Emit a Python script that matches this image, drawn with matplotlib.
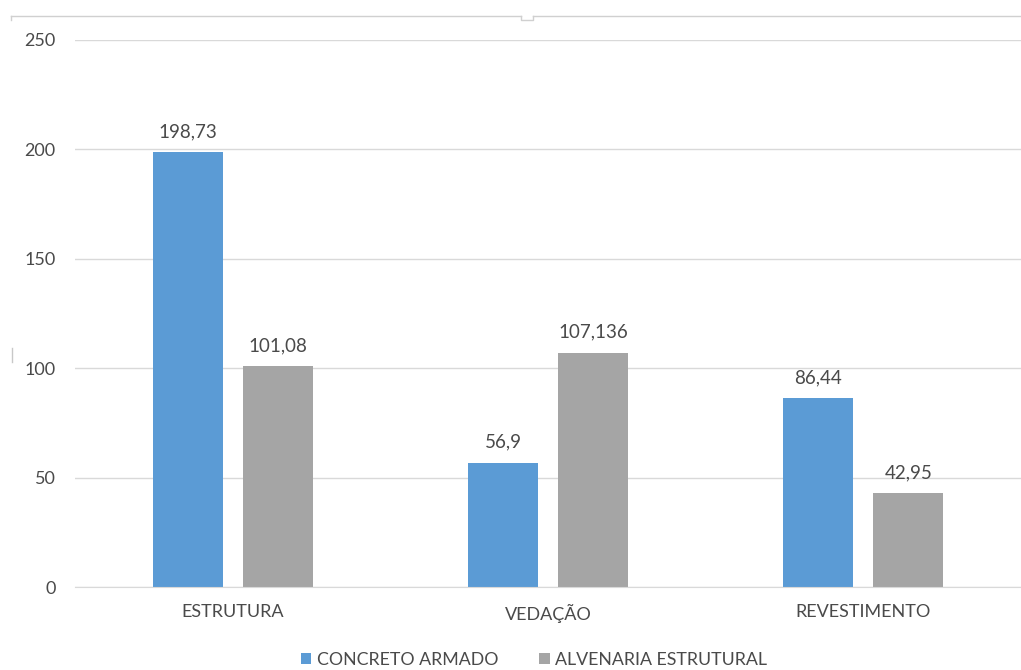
import matplotlib.pyplot as plt
import numpy as np
from matplotlib.lines import Line2D

plt.rcParams['font.family'] = ['Lato', 'DejaVu Sans']

categories = ['ESTRUTURA', 'VEDAÇÃO', 'REVESTIMENTO']
concreto = [198.73, 56.9, 86.44]
alvenaria = [101.08, 107.136, 42.95]
series_names = ['CONCRETO ARMADO', 'ALVENARIA ESTRUTURAL']
yticks = [0, 50, 100, 150, 200, 250]

blue = '#5B9BD5'
gray = '#A5A5A5'
text_col = '#4A4A4A'
grid_col = '#D9D9D9'

fig = plt.figure(figsize=(10.21, 6.70), dpi=100)
ax = fig.add_axes([75 / 1021, 83 / 670, 1 - 75 / 1021, 547 / 670])

x = np.arange(len(categories))
w = 0.222
off = 0.143
b1 = ax.bar(x - off, concreto, w, color=blue, zorder=3, label=series_names[0])
b2 = ax.bar(x + off, alvenaria, w, color=gray, zorder=3, label=series_names[1])

def fmt(v):
    return ('%g' % v).replace('.', ',')

for bars, vals in ((b1, concreto), (b2, alvenaria)):
    for r, v in zip(bars, vals):
        ax.annotate(fmt(v), (r.get_x() + r.get_width() / 2, v),
                    xytext=(0, 8.5), textcoords='offset points',
                    ha='center', va='bottom', fontsize=13.5, color=text_col)

ax.set_xlim(-0.5, 2.5)
ax.set_ylim(0, 250)
ax.set_yticks(yticks)
ax.set_yticklabels([str(t) for t in yticks])
ax.set_xticks(x)
ax.set_xticklabels(categories)
ax.tick_params(axis='both', length=0, labelsize=13, labelcolor=text_col)
ax.tick_params(axis='y', pad=14)
ax.tick_params(axis='x', pad=12)
ax.yaxis.grid(True, color=grid_col, linewidth=1, zorder=0)
for s in ('top', 'right', 'left'):
    ax.spines[s].set_visible(False)
ax.spines['bottom'].set_color(grid_col)
ax.spines['bottom'].set_zorder(4)

leg = fig.legend(handles=[b1, b2], loc='center', bbox_to_anchor=(0.523, 1 - 660 / 670),
                 ncol=2, frameon=False, fontsize=12.8, handlelength=0.6,
                 handleheight=0.6, handletextpad=0.3, columnspacing=2.3)
for t in leg.get_texts():
    t.set_color(text_col)

# chart frame edge along the top, with the small handle
fy = 1 - 16 / 670
fig.add_artist(Line2D([11 / 1021, 521 / 1021], [fy, fy], color='#D0D0D0', lw=1))
fig.add_artist(Line2D([533 / 1021, 1.0], [fy, fy], color='#D0D0D0', lw=1))
fig.add_artist(Line2D([521 / 1021, 521 / 1021, 533 / 1021, 533 / 1021],
                      [fy, fy - 4 / 670, fy - 4 / 670, fy], color='#D0D0D0', lw=1))
fig.add_artist(Line2D([11 / 1021, 11 / 1021], [fy, fy - 4 / 670], color='#D0D0D0', lw=1))
fig.add_artist(Line2D([12 / 1021, 12 / 1021], [1 - 348 / 670, 1 - 362 / 670],
                      color='#C8C8C8', lw=1))

fig.savefig('out.png', dpi=100)
